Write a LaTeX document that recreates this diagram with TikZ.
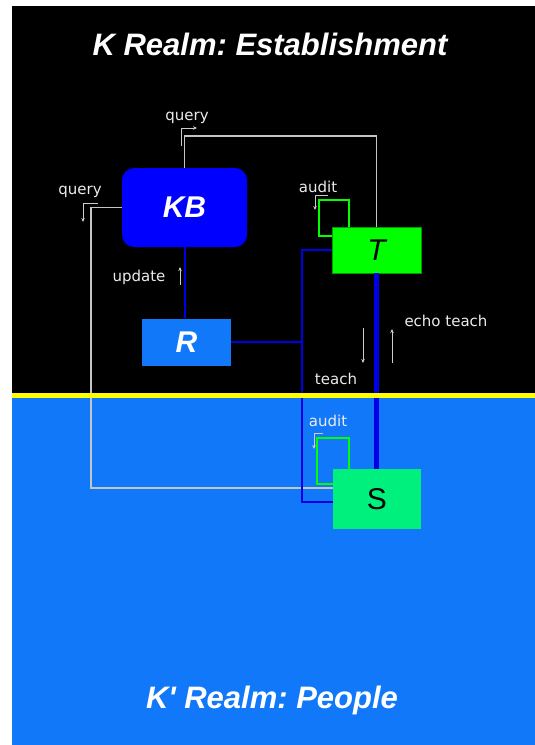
\documentclass[tikz,border=0pt]{standalone}
\usepackage{fontspec}
\setmainfont{Liberation Sans}
\setsansfont{Liberation Sans}
\newfontfamily\labelfont{DejaVu Sans}
\newfontfamily\titlefont{Liberation Sans}
\usetikzlibrary{positioning, arrows.meta, calc}
\definecolor{realmBlack}{HTML}{000000}
\definecolor{realmBlue}{HTML}{1278FA}
\definecolor{kbBlue}{HTML}{0000FF}
\definecolor{busBlue}{HTML}{0000E6}
\definecolor{tGreen}{HTML}{00FF00}
\definecolor{sGreen}{HTML}{00F07E}
\definecolor{queryGrey}{HTML}{C4C4C4}
\definecolor{lineYellow}{HTML}{FFFF00}
\frenchspacing

\begin{document}
\begin{tikzpicture}[x=1pt, y=-1pt,
    agent/.style={inner sep=0pt, font=\sffamily\fontsize{30}{30}\selectfont},
    realm/.style={text=white, font=\titlefont\bfseries\itshape\fontsize{31}{31}\selectfont},
    tag/.style={text=white!92!black, inner sep=0pt, font=\labelfont\fontsize{15}{15}\selectfont},
    queryline/.style={draw=queryGrey, line width=1.6pt},
    busline/.style={draw=busBlue, line width=2pt},
    auditline/.style={draw=tGreen, line width=1.6pt},
    tagarrow/.style={draw=white!80!black, line width=1pt, -{Stealth[length=4pt, width=3.5pt]}}]

    % panels
    \useasboundingbox (0,0) rectangle (535,745);
    \fill[white] (0,0) rectangle (535,745);
    \fill[realmBlack] (12,6) rectangle (535,394);
    \fill[realmBlue] (12,394) rectangle (535,745);

    \node[realm] (top) at (270,44) {K Realm: Establishment};
    \node[realm] (bottom) at (272,700) {K' Realm: People};

    % agents
    \node[agent, fill=kbBlue, rounded corners=12pt, minimum width=125pt, minimum height=79pt,
          text=white, font=\sffamily\bfseries\itshape\fontsize{30}{30}\selectfont] (KB) at (184.5,207.5) {KB};
    \node[agent, fill=realmBlue, minimum width=89pt, minimum height=47pt,
          text=white, font=\sffamily\bfseries\itshape\fontsize{30}{30}\selectfont] (R) at (186.5,342) {R};
    \node[agent, fill=tGreen, draw=green!60!black, line width=0.6pt, minimum width=89pt, minimum height=46pt,
          font=\sffamily\itshape\fontsize{30}{30}\selectfont] (T) at (376.5,250) {T};
    \node[agent, fill=sGreen, minimum width=88pt, minimum height=60pt] (S) at (377,499) {S};

    % connectors
    \coordinate (qLeft) at (91,488);
    \coordinate (busTurn) at (302,502);
    \draw[queryline] (KB.north) -- (KB.north |- 0,136) -| (T.north);
    \draw[queryline] (KB.west) -| (qLeft) -- (qLeft -| S.west);
    \draw[busline] (KB.south) -- (KB.south |- R.north);
    \draw[busline] (T.west) -| (busTurn) -- (busTurn -| S.west);
    \draw[busline] (R.east) -- (R.east -| busTurn);
    \draw[draw=busBlue, line width=5pt] (T.south) -- (T.south |- S.north);
    \draw[auditline] ($(T.north west)+(17,0)$) |- ++(-30,-27) |- ($(T.north west)+(0,9)$);
    \draw[auditline] ($(S.north west)+(16,0)$) |- ++(-32,-31) |- ($(S.north west)+(0,15)$);

    \fill[lineYellow] (12,393) rectangle (535,398);

    % labels
    \node[tag] (qTopTag) at (187,118) {query};
    \node[tag] (qLeftTag) at (80,192) {query};
    \node[tag] (updTag) at (139,277) {update};
    \node[tag] (auditT) at (318,187) {audit};
    \node[tag] (echoTag) at (446,321) {echo teach};
    \node[tag] (teachTag) at (336,379) {teach};
    \node[tag] (auditS) at (328,421) {audit};

    \draw[tagarrow] (181,146) -- (181,128) -- (197,128);
    \draw[tagarrow] (98,203) -- (83,203) -- (83,222);
    \draw[tagarrow] (180,285) -- (180,267);
    \draw[tagarrow] (328,195) -- (315,195) -- (315,210);
    \draw[tagarrow] (363,328) -- (363,363);
    \draw[tagarrow] (392,363) -- (392,329);
    \draw[tagarrow] (323,433) -- (314,433) -- (314,449);
\end{tikzpicture}
\end{document}
